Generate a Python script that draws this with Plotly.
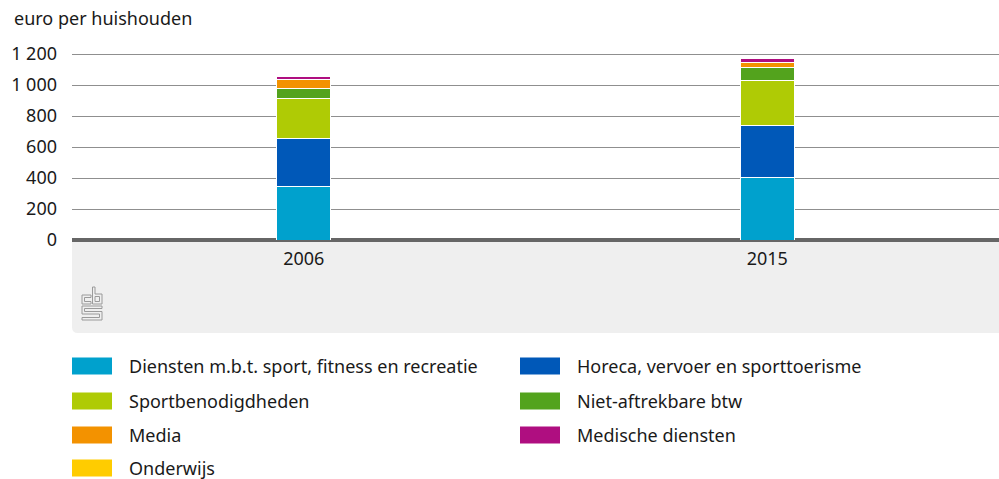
import plotly.graph_objects as go

years = ["2006", "2015"]
series_names = [
    "Diensten m.b.t. sport, fitness en recreatie",
    "Horeca, vervoer en sporttoerisme",
    "Sportbenodigdheden",
    "Niet-aftrekbare btw",
    "Media",
    "Medische diensten",
    "Onderwijs",
]
diensten = [342, 402]
horeca = [311, 334]
sportbenodigdheden = [262, 295]
niet_aftrekbare_btw = [64, 81]
media = [55, 34]
medische_diensten = [21, 26]
onderwijs = [1, 1]
series_values = [diensten, horeca, sportbenodigdheden, niet_aftrekbare_btw,
                 media, medische_diensten, onderwijs]
colors = ["#00A1CD", "#0058B8", "#AFCB05", "#53A31D", "#F39200", "#AF0E80", "#FFCC00"]
y_ticks = [0, 200, 400, 600, 800, 1000, 1200]

W, H = 999, 479
L, R = 72, 999
T, B = 45, 240
FONT = "Noto Sans"
TXT = "#1a1a1a"
FS = 18


def px(x):
    return (x - L) / (R - L)


def py(y):
    return (B - y) / (B - T)


fig = go.Figure()
for name, vals, col in zip(series_names, series_values, colors):
    fig.add_trace(go.Bar(
        x=years, y=vals, name=name,
        marker=dict(color=col, line=dict(color="white", width=1)),
        showlegend=False,
    ))

shapes = []
# grey footer area with rounded bottom-left corner
x0, x1, y0, y1, r = px(72), px(999), py(242), py(333), 6
rx = r / (R - L)
ry = r / (B - T)
shapes.append(dict(
    type="path", xref="paper", yref="paper", layer="below",
    path=f"M {x0},{y0} L {x1},{y0} L {x1},{y1} L {x0+rx},{y1} Q {x0},{y1} {x0},{y1+ry} Z",
    fillcolor="#EFEFEF", line=dict(width=0),
))

# CBS logo (approximation)
def poly(points):
    return "M " + " L ".join(f"{px(a)},{py(b)}" for a, b in points) + " Z"

logo_paths = [
    [(91, 295), (82, 295), (82, 304), (91, 304), (91, 301.5), (84.5, 301.5), (84.5, 297.5), (91, 297.5)],
    [(92.5, 287), (92.5, 304), (102, 304), (102, 294), (95, 294), (95, 287)],
    [(95, 296.5), (99.5, 296.5), (99.5, 301.5), (95, 301.5)],
    [(102, 306), (82, 306), (82, 314), (99.5, 314), (99.5, 317.5), (82, 317.5), (82, 320),
     (102, 320), (102, 311.5), (84.5, 311.5), (84.5, 308.5), (102, 308.5)],
]
for p in logo_paths:
    shapes.append(dict(type="path", xref="paper", yref="paper", path=poly(p),
                       line=dict(color="#9a9a9a", width=1), fillcolor="rgba(0,0,0,0)"))

annotations = [dict(
    text="euro per huishouden", x=px(12), y=py(18), xref="paper", yref="paper",
    xanchor="left", yanchor="middle", showarrow=False,
    font=dict(family=FONT, size=FS, color=TXT),
)]

# legend (row-wise, two columns)
col_x = [72, 520]
row_y = [366, 401, 435, 468]
for i, (name, col) in enumerate(zip(series_names, colors)):
    cx = col_x[i % 2]
    cy = row_y[i // 2]
    shapes.append(dict(type="rect", xref="paper", yref="paper",
                       x0=px(cx), x1=px(cx + 40), y0=py(cy - 8.5), y1=py(cy + 8.5),
                       fillcolor=col, line=dict(width=0)))
    annotations.append(dict(text=name, x=px(cx + 55), y=py(cy), xref="paper", yref="paper",
                            xanchor="left", yanchor="middle", showarrow=False,
                            font=dict(family=FONT, size=FS, color=TXT)))

fig.update_layout(
    width=W, height=H,
    margin=dict(l=L, r=W - R, t=T, b=H - B, pad=0),
    barmode="stack", bargap=0.8835,
    plot_bgcolor="white", paper_bgcolor="white",
    separators=", ",
    shapes=shapes, annotations=annotations,
    showlegend=False,
    xaxis=dict(type="category", showgrid=False, showline=False, ticks="",
               tickfont=dict(family=FONT, size=FS, color=TXT), ticklabelstandoff=6),
    yaxis=dict(range=[0, 1200 * (B - T) / (B - 54)], tickvals=y_ticks, tickformat=",d",
               showgrid=True, gridcolor="#8f8f8f", gridwidth=1,
               zeroline=True, zerolinecolor="#666666", zerolinewidth=4,
               showline=False, ticks="", ticklabelstandoff=14,
               tickfont=dict(family=FONT, size=FS, color=TXT)),
)

fig.write_html("out.html", config={"displayModeBar": False},
               post_script="document.body.style.margin='0';")
